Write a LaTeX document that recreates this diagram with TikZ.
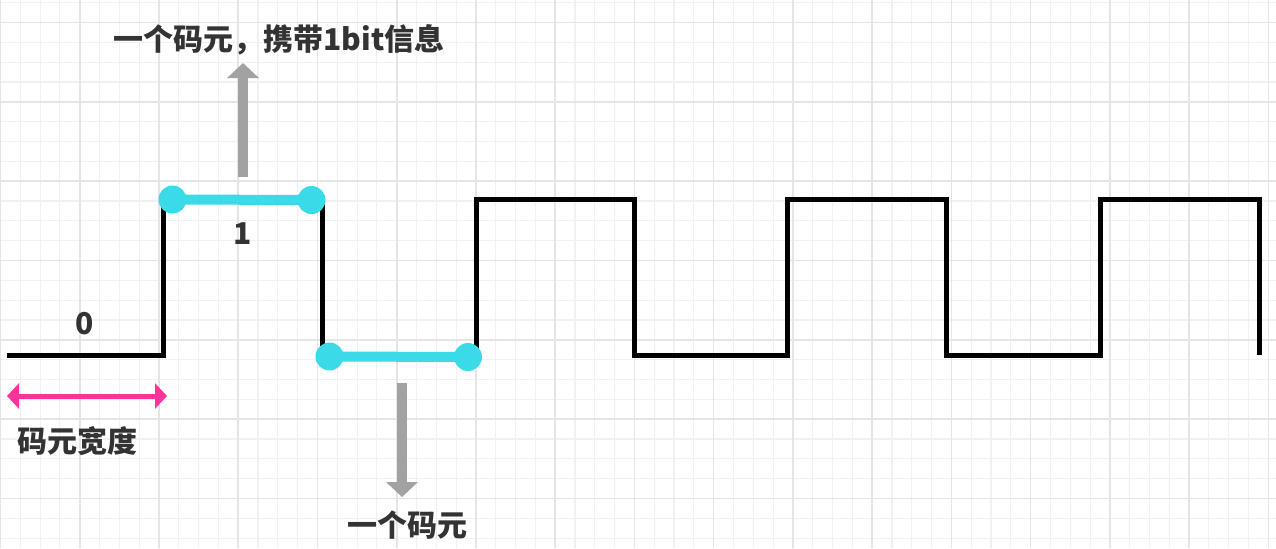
\documentclass[tikz,border=0pt]{standalone}
\usepackage{fontspec}
\newfontfamily\cjk{Noto Sans CJK SC}
\usetikzlibrary{arrows.meta}
\definecolor{gridminor}{HTML}{F1F1F1}
\definecolor{gridmajor}{HTML}{E5E5E5}
\definecolor{sigcyan}{HTML}{3ADAE8}
\definecolor{sigpink}{HTML}{FF3399}
\definecolor{arrowgray}{HTML}{A2A2A2}
\definecolor{txt}{HTML}{333333}
\begin{document}
\begin{tikzpicture}[x=0.5pt,y=-0.5pt,
  labeltext/.style={font=\cjk\bfseries\fontsize{15}{18}\selectfont, text=txt, inner sep=0pt},
  wave/.style={line width=2.5pt, black, line join=miter},
  codebar/.style={line width=5pt, sigcyan},
  codedot/.style={circle, fill=sigcyan, minimum size=14pt, inner sep=0pt},
  grayarrow/.style={line width=5pt, arrowgray, -{Triangle[length=7.5pt,width=15.5pt]}},
  pinkarrow/.style={line width=2.5pt, sigpink, {Triangle[length=6pt,width=12.5pt]}-{Triangle[length=6pt,width=12.5pt]}},
  minorline/.style={gridminor, line width=0.55pt},
  majorline/.style={gridmajor, line width=0.8pt}
]
\useasboundingbox (0,0) rectangle (1276,548);
\fill[white] (0,0) rectangle (1276,548);
% grid
\foreach \i in {0,...,64} \draw[minorline] ({0.5+19.81*\i},0) -- ++(0,548);
\foreach \j in {0,...,27} \draw[minorline] (0,{2.7+19.83*\j}) -- ++(1276,0);
\foreach \i in {0,4,...,64} \draw[majorline] ({0.5+19.81*\i},0) -- ++(0,548);
\foreach \j in {1,5,...,25} \draw[majorline] (0,{2.7+19.83*\j}) -- ++(1276,0);
% waveform
\draw[wave] (7,355) -- (163,355) -- (163,199.5) -- (322.5,199.5) -- (322.5,355)
  -- (476,355) -- (476,199.5) -- (634.5,199.5) -- (634.5,355)
  -- (787,355) -- (787,199.5) -- (946,199.5) -- (946,355)
  -- (1100,355) -- (1100,199.5) -- (1259,199.5) -- (1259,355);
% code element bars
\node[codedot] (c1) at (172.5,199.5) {};
\node[codedot] (c2) at (311.5,200) {};
\node[codedot] (c3) at (329.5,356.5) {};
\node[codedot] (c4) at (468,357) {};
\draw[codebar] (c1.center) -- (c2.center);
\draw[codebar] (c3.center) -- (c4.center);
% labels
\node[labeltext] (top) at (279,39.5) {一个码元，携带1bit信息};
\node[labeltext] (one) at (243,233.5) {1};
\node[labeltext] (zero) at (85,323.5) {0};
\node[labeltext] (width) at (78,441) {码元宽度};
\node[labeltext] (bottom) at (407,525.5) {一个码元};
% arrows
\coordinate (ua) at (243,177);
\coordinate (ub) at (243,63);
\draw[grayarrow] (ua) -- (ub);
\coordinate (da) at (402,383);
\coordinate (db) at (402,497);
\draw[grayarrow] (da) -- (db);
\coordinate (pa) at (7,396);
\coordinate (pb) at (167,396);
\draw[pinkarrow] (pa) -- (pb);
\end{tikzpicture}
\end{document}
